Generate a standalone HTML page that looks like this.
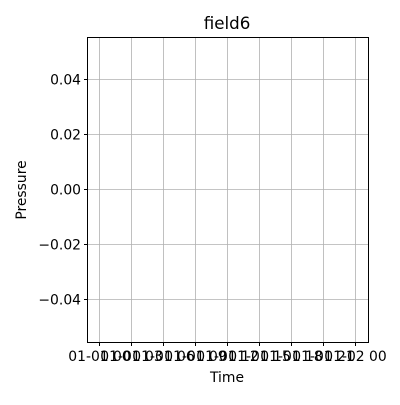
<!DOCTYPE html>
<html><head><meta charset="utf-8"><style>body{margin:0;background:#fff}svg text{font-family:"DejaVu Sans","Liberation Sans",sans-serif;fill:#000}</style></head>
<body>
<svg id="chart" width="400" height="400" xmlns="http://www.w3.org/2000/svg">
<rect width="400" height="400" fill="#fff"/>
<g id="grid"></g>
<rect x="87.5" y="37.5" width="281" height="305" fill="none" stroke="#000" stroke-width="1"/>
<g id="ticks"></g>
<text x="227" y="29" font-size="16.7" text-anchor="middle">field6</text>
<text x="227" y="382" font-size="13.9" text-anchor="middle">Time</text>
<text x="26" y="190" font-size="13.9" text-anchor="middle" transform="rotate(-90 26 190)">Pressure</text>
</svg>
<script>
const xTickLabels = ["01-01 00","01-01 03","01-01 06","01-01 09","01-01 12","01-01 15","01-01 18","01-01 21","01-02 00"];
const yTickValues = [0.04,0.02,0.00,-0.02,-0.04];
const yTickLabels = ["0.04","0.02","0.00","\u22120.02","\u22120.04"];
const seriesValues = [];
const NS="http://www.w3.org/2000/svg";
const x = i => 99.5 + i*(355.5-99.5)/(xTickLabels.length-1);
const y = v => 189.5 - v*(189.5-79.5)/0.04;
const grid=document.getElementById('grid'), ticks=document.getElementById('ticks');
function mk(tag,attrs,parent){const e=document.createElementNS(NS,tag);for(const k in attrs)e.setAttribute(k,attrs[k]);parent.appendChild(e);return e;}
xTickLabels.forEach((l,i)=>{
  const g=mk('line',{x1:x(i),x2:x(i),y1:37.5,y2:342.5,stroke:'#b0b0b0','stroke-width':0.8},grid);
  
  
  const t=mk('line',{x1:x(i),x2:x(i),y1:342.5,y2:346,stroke:'#000'},ticks);
  
  
  const tx=mk('text',{x:x(i),y:361,'font-size':13.9,'text-anchor':'middle'},ticks);
  tx.textContent=l;
  
  
});
yTickValues.forEach((v,i)=>{
  const g=mk('line',{x1:87.5,x2:368.5,y1:y(v),y2:y(v),stroke:'#b0b0b0','stroke-width':0.8},grid);
  
  
  const t=mk('line',{x1:84,x2:87.5,y1:y(v),y2:y(v),stroke:'#000'},ticks);
  
  
  const tx=mk('text',{x:81,y:y(v)+5,'font-size':13.9,'text-anchor':'end'},ticks);
  tx.textContent=yTickLabels[i];
  
  
});
if(seriesValues.length){
  const p=mk('polyline',{points:seriesValues.map((v,i)=>x(i)+','+y(v)).join(' '),fill:'none',stroke:'#1f77b4','stroke-width':1.5},document.getElementById('chart'));
  
  
}
</script>
</body></html>
